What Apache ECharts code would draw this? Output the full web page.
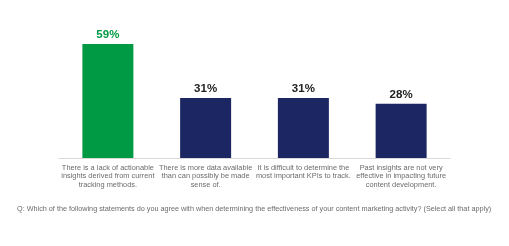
<!DOCTYPE html>
<html><head><meta charset="utf-8">
<script src="https://cdn.jsdelivr.net/npm/echarts@6/dist/echarts.min.js"></script>
<style>html,body{margin:0;padding:0;background:#fff}#c{width:509px;height:246px}</style>
</head><body><div id="c"></div>
<script>
var categories = [
  "There is a lack of actionable\ninsights derived from current\ntracking methods.",
  "There is more data available\nthan can possibly be made\nsense of.",
  "It is difficult to determine the\nmost important KPIs to track.",
  "Past insights are not very\neffective in impacting future\ncontent development."
];
var values = [59, 31, 31, 28];
var barColors = ["#009A44", "#1B2663", "#1B2663", "#1B2663"];
var labelColors = ["#009A44", "#222222", "#222222", "#222222"];
var footnote = "Q: Which of the following statements do you agree with when determining the effectiveness of your content marketing activity? (Select all that apply)";

var chart = echarts.init(document.getElementById('c'), null, {renderer: 'canvas'});
chart.setOption({
  animation: false,
  backgroundColor: '#fff',
  grid: {left: 59, right: 59, top: 42, bottom: 88},
  xAxis: {
    type: 'category',
    data: categories,
    axisLine: {lineStyle: {color: '#d9d9d9', width: 1}},
    axisTick: {show: false},
    axisLabel: {
      interval: 0, color: '#6b6b6b', fontFamily: 'Liberation Sans, Arial, sans-serif',
      fontSize: 7.4, lineHeight: 8.5, margin: 5.5, align: 'center'
    }
  },
  yAxis: {type: 'value', min: 0, max: 60, show: false, splitLine: {show: false}},
  series: [{
    type: 'bar',
    barWidth: 51,
    data: values.map(function (v, i) {
      return {
        value: v,
        itemStyle: {color: barColors[i]},
        label: {color: labelColors[i]}
      };
    }),
    label: {
      show: true, position: 'top', distance: 3,
      formatter: '{c}%',
      fontFamily: 'Liberation Sans, Arial, sans-serif',
      fontWeight: 'bold', fontSize: 11.5
    }
  }],
  graphic: [{
    type: 'text', left: 17, top: 205.5,
    style: {
      text: footnote, fill: '#6b6b6b',
      font: '7.25px "Liberation Sans", Arial, sans-serif'
    }
  }]
});
</script></body></html>
